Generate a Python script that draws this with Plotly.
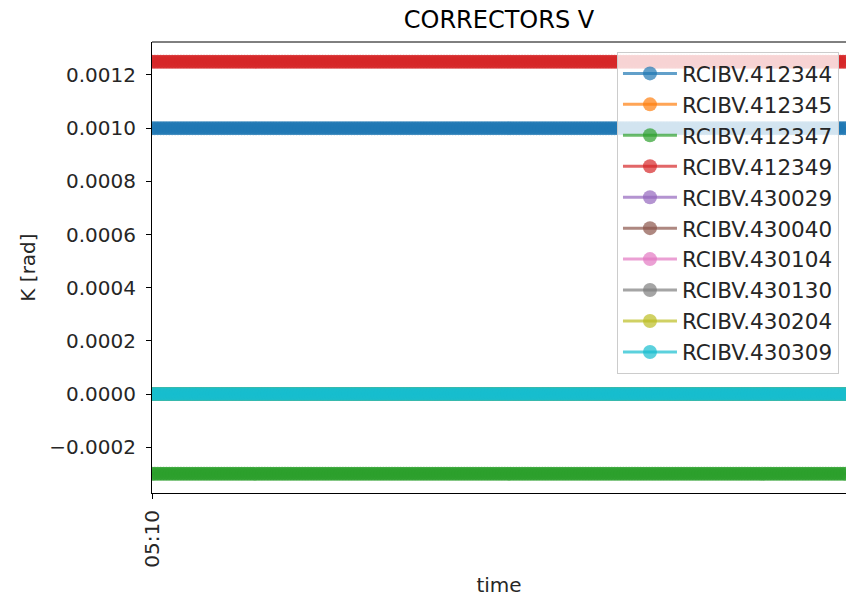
import pandas as pd
import plotly.graph_objects as go

# ---- data ----
series_names = ["RCIBV.412344", "RCIBV.412345", "RCIBV.412347", "RCIBV.412349",
                "RCIBV.430029", "RCIBV.430040", "RCIBV.430104", "RCIBV.430130",
                "RCIBV.430204", "RCIBV.430309"]
series_levels = [0.0010, 0.0, -0.0003, 0.00125, 0.0, 0.0, 0.0, 0.0, 0.0, 0.0]
series_colors = ["#1f77b4", "#ff7f0e", "#2ca02c", "#d62728", "#9467bd",
                 "#8c564b", "#e377c2", "#7f7f7f", "#bcbd22", "#17becf"]
times = list(pd.date_range("2018-10-22 05:10:00", "2018-10-22 05:14:00", freq="1s"))
x_ticks = ["2018-10-22 05:10:00"]
x_ticklabels = ["05:10"]
y_ticks = [-0.0002, 0.0, 0.0002, 0.0004, 0.0006, 0.0008, 0.0010, 0.0012]


def rgba(h, a):
    h = h.lstrip("#")
    return "rgba(%d,%d,%d,%.2f)" % (int(h[0:2], 16), int(h[2:4], 16), int(h[4:6], 16), a)


fig = go.Figure()
for name, lvl, col in zip(series_names, series_levels, series_colors):
    fig.add_trace(go.Scatter(
        x=times, y=[lvl] * len(times), name=name, mode="lines+markers",
        line=dict(color=rgba(col, 0.7), width=3),
        marker=dict(color=rgba(col, 0.7), size=14, line=dict(width=0)),
    ))

font = "DejaVu Sans, Liberation Sans, sans-serif"
fig.update_layout(
    width=846, height=600,
    margin=dict(l=152, r=0, t=42, b=107),
    paper_bgcolor="white", plot_bgcolor="white",
    font=dict(family=font, size=20, color="#262626"),
    title=dict(text="CORRECTORS V", xref="paper", x=0.5, xanchor="center",
               yref="container", y=1 - 20 / 600, yanchor="middle",
               font=dict(size=24, color="black")),
    showlegend=True,
    legend=dict(x=0.67, y=0.978, xanchor="left", yanchor="top",
                bgcolor="rgba(255,255,255,0.8)", bordercolor="#cccccc", borderwidth=1,
                font=dict(size=21.5, color="#262626"), tracegroupgap=0,
                itemwidth=54),
    xaxis=dict(
        range=["2018-10-22 05:10:00", "2018-10-22 05:14:00"],
        tickvals=x_ticks, ticktext=x_ticklabels, tickangle=-90,
        ticks="outside", ticklen=5, tickcolor="black", tickwidth=1,
        ticklabelstandoff=3,
        showline=True, linecolor="black", linewidth=1, mirror=False,
        showgrid=False, zeroline=False,
        title=dict(text="time", standoff=11, font=dict(size=20)),
    ),
    yaxis=dict(
        range=[-0.000372, 0.001324],
        tickvals=y_ticks, tickformat=".4f",
        ticks="outside", ticklen=5, tickcolor="black", tickwidth=1,
        ticklabelstandoff=6,
        showline=True, linecolor="black", linewidth=1,
        showgrid=False, zeroline=False,
        title=dict(text="K [rad]", standoff=8, font=dict(size=20)),
    ),
    shapes=[dict(type="line", xref="paper", yref="paper", x0=0, x1=1, y0=1, y1=1,
                 line=dict(color="black", width=1))],
)

fig.write_html("out.html", config={"displayModeBar": False},
               post_script="document.body.style.margin='0px';document.body.style.overflow='hidden';")
